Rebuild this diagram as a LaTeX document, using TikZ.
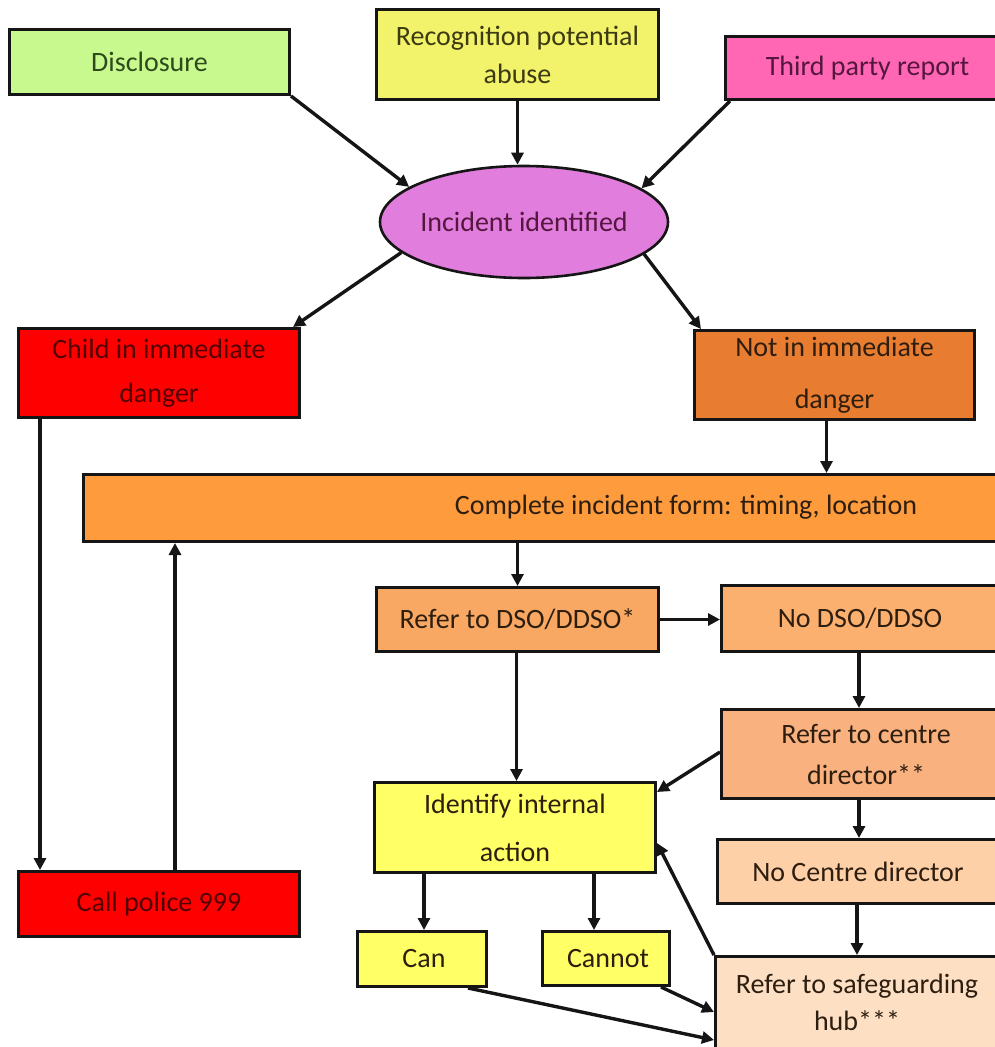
\documentclass[tikz,border=0pt]{standalone}
\usepackage{fontspec}
\setmainfont{Carlito}
\usetikzlibrary{arrows.meta,shapes.geometric}
\definecolor{cDisc}{HTML}{C8F98E}
\definecolor{cRec}{HTML}{F2F26B}
\definecolor{cThird}{HTML}{FF66B3}
\definecolor{cInc}{HTML}{E07DDD}
\definecolor{cRed}{HTML}{FF0000}
\definecolor{cNot}{HTML}{E87C30}
\definecolor{cForm}{HTML}{FD9B3D}
\definecolor{cDso}{HTML}{F8A862}
\definecolor{cNoDso}{HTML}{FBB070}
\definecolor{cCentre}{HTML}{F9B27F}
\definecolor{cNoCentre}{HTML}{FDD0A8}
\definecolor{cHub}{HTML}{FDE0C4}
\definecolor{cYel}{HTML}{FFFF66}
\definecolor{tGreen}{HTML}{2E4A1C}
\definecolor{tOlive}{HTML}{3C3A12}
\definecolor{tPurple}{HTML}{55163F}
\definecolor{tRed}{HTML}{520000}
\definecolor{tBrown}{HTML}{2E1E10}
\definecolor{lineC}{HTML}{151515}
\tikzset{
  box/.style={draw=lineC, line width=3pt, rectangle, inner sep=0pt, anchor=north west, align=center},
  txt/.style={font=\fontsize{28}{#1}\selectfont, align=center, inner sep=0pt},
  arr/.style={draw=lineC, line width=3.4pt, -{Triangle[length=12pt,width=12pt]}}
}
\begin{document}
\begin{tikzpicture}[x=1pt,y=-1pt]
\clip (0,0) rectangle (995,1047);
\fill[white] (0,0) rectangle (995,1047);
% top row
\node[box, fill=cDisc, minimum width=280, minimum height=65] (disc) at (8,28) {};
\node[txt=34, text=tGreen] (discT) at (disc.center) {Disclosure};
\node[box, fill=cRec, minimum width=282, minimum height=90] (rec) at (375,8) {};
\node[txt=38, text=tOlive] (recT) at (rec.center) {Recognition potential\\abuse};
\node[box, fill=cThird, minimum width=276, minimum height=63] (third) at (724,35) {};
\node[txt=34, text=tPurple] (thirdT) at ([xshift=4pt]third.center) {Third party report};
% ellipse
\node[ellipse, draw=lineC, line width=2.6pt, fill=cInc, minimum width=288, minimum height=112, inner sep=0pt] (inc) at (524,222) {};
\node[txt=34, text=tPurple] (incT) at (inc.center) {Incident identified};
% danger row
\node[box, fill=cRed, minimum width=281, minimum height=89] (child) at (17,327) {};
\node[txt=44, text=tRed] (childT) at (child.center) {Child in immediate\\danger};
\node[box, fill=cNot, minimum width=280, minimum height=89] (notd) at (693,329) {};
\node[txt=52, text=tBrown] (notT) at (notd.center) {Not in immediate\\danger};
% form
\node[box, fill=cForm, minimum width=930, minimum height=67] (form) at (82,473) {};
\node[txt=34, text=tBrown] (formT) at (686,507) {Complete incident form: timing, location};
% DSO row
\node[box, fill=cDso, minimum width=282, minimum height=64] (dso) at (375,586) {};
\node[txt=34, text=tBrown] (dsoT) at (dso.center) {Refer to DSO/DDSO*};
\node[box, fill=cNoDso, minimum width=277, minimum height=66] (nodso) at (720,584) {};
\node[txt=34, text=tBrown] (nodsoT) at (nodso.center) {No DSO/DDSO};
% centre director
\node[box, fill=cCentre, minimum width=277, minimum height=89] (centre) at (720,708) {};
\node[txt=41, text=tBrown] (centreT) at ([xshift=6pt]centre.center) {Refer to centre\\director**};
\node[box, fill=cYel, minimum width=281, minimum height=90] (ident) at (373,781) {};
\node[txt=48, text=tBrown] (identT) at (ident.center) {Identify internal\\action};
\node[box, fill=cNoCentre, minimum width=281, minimum height=64] (nocentre) at (716,838) {};
\node[txt=34, text=tBrown] (nocentreT) at (nocentre.center) {No Centre director};
% bottom
\node[box, fill=cRed, minimum width=281, minimum height=65] (police) at (17,870) {};
\node[txt=34, text=tRed] (policeT) at (police.center) {Call police 999};
\node[box, fill=cYel, minimum width=129, minimum height=55] (can) at (356,930) {};
\node[txt=34, text=tBrown] (canT) at ([xshift=2pt]can.center) {Can};
\node[box, fill=cYel, minimum width=127, minimum height=54] (cannot) at (541,930) {};
\node[txt=34, text=tBrown] (cannotT) at ([xshift=2pt]cannot.center) {Cannot};
\node[box, fill=cHub, minimum width=283, minimum height=100] (hub) at (714,955) {};
\node[txt=37, text=tBrown] (hubT) at (857,1002) {Refer to safeguarding\\hub***};
% connector start points
\coordinate (sNot) at ([xshift=-8pt]notd.south);
\coordinate (sDso) at ([xshift=-1pt]dso.south);
\coordinate (sNoDso) at ([xshift=-1pt]nodso.south);
\coordinate (sCentre) at ([xshift=-1pt]centre.south);
\coordinate (sNoCentre) at ([xshift=-1pt]nocentre.south);
\coordinate (sCan) at ([xshift=51pt]ident.south west);
\coordinate (sCannot) at ([xshift=221pt]ident.south west);
\coordinate (sChild) at ([xshift=23pt]child.south west);
\coordinate (sPolice) at ([xshift=158pt]police.north west);
% connectors
\draw[arr] (disc.south east) -- (inc.163);
\draw[arr] (rec.south) -- (rec.south |- inc.north);
\draw[arr] ([xshift=6pt]third.south west) -- (inc.16);
\draw[arr] (inc.194) -- ([xshift=-8pt]child.north east);
\draw[arr] (inc.345) -- ([xshift=8pt]notd.north west);
\draw[arr] (sChild) -- (sChild |- police.north);
\draw[arr] (sPolice) -- (sPolice |- form.south);
\draw[arr] (sNot) -- (sNot |- form.north);
\draw[arr] (dso.north |- form.south) -- (dso.north);
\draw[arr] (dso.east) -- (dso.east -| nodso.west);
\draw[arr] (sDso) -- (sDso |- ident.north);
\draw[arr] (sNoDso) -- (sNoDso |- centre.north);
\draw[arr] ([yshift=2pt]centre.west) -- ([yshift=-11pt]ident.north east);
\draw[arr] (sCentre) -- (sCentre |- nocentre.north);
\draw[arr] (sNoCentre) -- (sNoCentre |- hub.north);
\draw[arr] (sCan) -- (sCan |- can.north);
\draw[arr] (sCannot) -- (sCannot |- cannot.north);
\draw[arr] (hub.north west) -- ([yshift=31pt]ident.south east);
\draw[arr] ([xshift=-10pt]cannot.south east) -- ([yshift=-57pt]hub.north west);
\draw[arr] ([xshift=-20pt]can.south east) -- ([yshift=-85pt]hub.north west);
\end{tikzpicture}
\end{document}
